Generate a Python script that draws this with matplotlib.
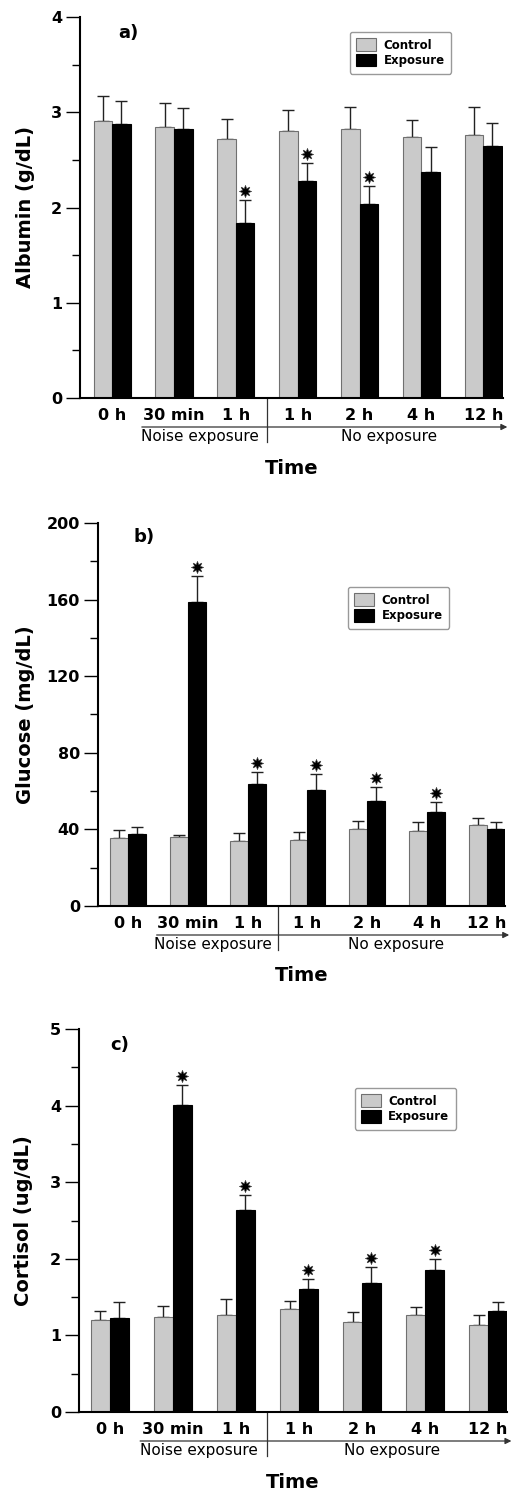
import matplotlib
matplotlib.use("Agg")
import matplotlib.pyplot as plt
import matplotlib.transforms as mtransforms
from matplotlib.ticker import MultipleLocator
import numpy as np

# time points
time_labels = ['0 h', '30 min', '1 h', '1 h', '2 h', '4 h', '12 h']

# a) albumin (g/dL)
alb_ctrl = [2.91, 2.84, 2.72, 2.80, 2.82, 2.74, 2.76]
alb_ctrl_err = [0.26, 0.26, 0.21, 0.22, 0.24, 0.18, 0.29]
alb_exp = [2.88, 2.82, 1.84, 2.28, 2.04, 2.37, 2.65]
alb_exp_err = [0.24, 0.22, 0.24, 0.19, 0.19, 0.26, 0.24]
alb_sig = [False, False, True, True, True, False, False]

# b) glucose (mg/dL)
glu_ctrl = [35.4, 35.9, 34.0, 34.5, 40.1, 39.4, 42.2]
glu_ctrl_err = [4.3, 1.2, 4.3, 4.0, 4.5, 4.3, 4.0]
glu_exp = [37.6, 158.5, 63.8, 60.6, 54.9, 49.0, 40.1]
glu_exp_err = [3.5, 13.6, 6.1, 8.4, 7.1, 5.5, 4.0]
glu_sig = [False, True, True, True, True, True, False]

# c) cortisol (ug/dL)
cor_ctrl = [1.20, 1.24, 1.26, 1.34, 1.18, 1.26, 1.14]
cor_ctrl_err = [0.12, 0.15, 0.22, 0.11, 0.13, 0.11, 0.13]
cor_exp = [1.23, 4.01, 2.64, 1.61, 1.68, 1.86, 1.32]
cor_exp_err = [0.21, 0.26, 0.19, 0.13, 0.21, 0.14, 0.11]
cor_sig = [False, True, True, True, True, True, False]

W, H = 512, 1492
fig = plt.figure(figsize=(W / 100, H / 100), dpi=100)


def make_axes(left, right, top, bottom):
    return fig.add_axes([left / W, 1 - bottom / H, (right - left) / W, (bottom - top) / H])


def panel(ax, ctrl, ctrl_err, exp, exp_err, sig, ymax, major, minor, ylabel,
          tag, tag_xy, leg_xy, xlim, ylab_x):
    x = np.arange(len(time_labels))
    bw = 0.3
    ax.bar(x - bw / 2, ctrl, bw, color='#cacaca', edgecolor='#707070', lw=0.8,
           label='Control', zorder=2)
    ax.bar(x + bw / 2, exp, bw, color='black', edgecolor='black', lw=0.8,
           label='Exposure', zorder=2)
    ax.errorbar(x - bw / 2, ctrl, yerr=[np.zeros(len(x)), ctrl_err], fmt='none',
                ecolor='#222222', elinewidth=1, capsize=4, capthick=1, zorder=1)
    ax.errorbar(x + bw / 2, exp, yerr=[np.zeros(len(x)), exp_err], fmt='none',
                ecolor='#222222', elinewidth=1, capsize=4, capthick=1, zorder=1)

    # significance stars above the error caps
    star_tr = mtransforms.offset_copy(ax.transData, fig=fig, y=9, units='dots')
    for xi, m, e, s in zip(x, exp, exp_err, sig):
        if s:
            ax.plot(xi + bw / 2, m + e, marker=(8, 1, 0), ms=9, color='black',
                    mec='#444444', mew=0.4, transform=star_tr, clip_on=False)

    ax.set_xlim(*xlim)
    ax.set_ylim(0, ymax)
    ax.yaxis.set_major_locator(MultipleLocator(major))
    ax.yaxis.set_minor_locator(MultipleLocator(minor))
    ax.set_xticks(x)
    ax.set_xticklabels(time_labels, fontsize=11.5, fontweight='bold')
    ax.tick_params(axis='x', length=0, pad=7)
    ax.tick_params(axis='y', which='major', length=10, width=1, labelsize=11.5, pad=3)
    ax.tick_params(axis='y', which='minor', length=6, width=1)
    for t in ax.get_yticklabels():
        t.set_fontweight('bold')
    for sp in ['top', 'right']:
        ax.spines[sp].set_visible(False)
    for sp in ['left', 'bottom']:
        ax.spines[sp].set_linewidth(1.5)

    ax.set_ylabel(ylabel, fontsize=14, fontweight='bold')
    ax.yaxis.set_label_coords(ylab_x, 0.5)
    ax.text(tag_xy[0], tag_xy[1], tag, transform=ax.transAxes, fontsize=13,
            fontweight='bold', ha='left', va='center')

    leg = ax.legend(loc='upper left', bbox_to_anchor=leg_xy, borderaxespad=0,
                    prop={'size': 8.5, 'weight': 'bold'}, handlelength=1.7,
                    handleheight=1.25, labelspacing=0.2, handletextpad=0.6,
                    borderpad=0.55, fancybox=True, framealpha=1)
    leg.get_frame().set_edgecolor('#999999')
    leg.get_frame().set_linewidth(1.0)

    # exposure period annotation below the axis
    h_px = ax.get_position().height * H
    base = mtransforms.blended_transform_factory(ax.transData, ax.transAxes)
    ya = -29 / h_px
    ax.annotate('', xy=(xlim[1] + 0.07, ya), xytext=(0.48, ya), xycoords=base,
                arrowprops=dict(arrowstyle='-|>', color='#333333', lw=0.9,
                                mutation_scale=9, shrinkA=0, shrinkB=0),
                annotation_clip=False)
    ax.plot([2.5, 2.5], [0, -44 / h_px], color='#333333', lw=0.9,
            transform=base, clip_on=False)
    ax.text(1.42, -39 / h_px, 'Noise exposure', transform=base, fontsize=11,
            ha='center', va='center')
    ax.text(4.48, -39 / h_px, 'No exposure', transform=base, fontsize=11,
            ha='center', va='center')
    ax.text(0.5, -70 / h_px, 'Time', transform=ax.transAxes, fontsize=14,
            fontweight='bold', ha='center', va='center')


ax_a = make_axes(80, 503, 17, 398)
panel(ax_a, alb_ctrl, alb_ctrl_err, alb_exp, alb_exp_err, alb_sig, 4, 1, 0.5,
      'Albumin (g/dL)', 'a)', (0.09, 0.958), (0.638, 0.961), (-0.52, 6.32), -0.106)

ax_b = make_axes(98, 505, 523, 906)
panel(ax_b, glu_ctrl, glu_ctrl_err, glu_exp, glu_exp_err, glu_sig, 200, 40, 20,
      'Glucose (mg/dL)', 'b)', (0.086, 0.963), (0.614, 0.833), (-0.5, 6.3), -0.155)

ax_c = make_axes(79, 507, 1029, 1412)
panel(ax_c, cor_ctrl, cor_ctrl_err, cor_exp, cor_exp_err, cor_sig, 5, 1, 0.5,
      'Cortisol (ug/dL)', 'c)', (0.072, 0.958), (0.644, 0.846), (-0.49, 6.3), -0.107)

fig.savefig('out.png', dpi=100)
